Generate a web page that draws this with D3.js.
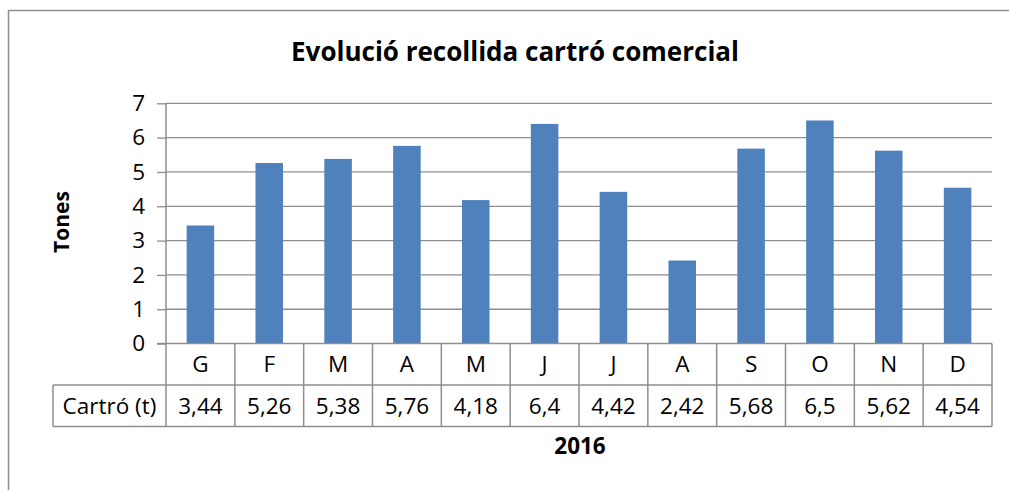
<!DOCTYPE html>
<html><head><meta charset="utf-8">
<script src="https://cdn.jsdelivr.net/npm/d3@7"></script>
<style>body{margin:0;background:#fff}svg{display:block}text{font-family:"Open Sans",sans-serif}</style>
</head><body>
<svg id="c" width="1009" height="490"></svg>
<script>
const title = "Evolució recollida cartró comercial";
const categories = ["G","F","M","A","M","J","J","A","S","O","N","D"];
const values = [3.44,5.26,5.38,5.76,4.18,6.4,4.42,2.42,5.68,6.5,5.62,4.54];
const valueLabels = ["3,44","5,26","5,38","5,76","4,18","6,4","4,42","2,42","5,68","6,5","5,62","4,54"];
const seriesName = "Cartró (t)";
const yTicks = [0,1,2,3,4,5,6,7];
const yTitle = "Tones";
const xTitle = "2016";

const svg = d3.select("#c");
const gray = "#8e8e8e";
const L = 166, R = 992, T = 103.3, B = 343.6;
const row1 = 385, row2 = 426.5, legL = 53;
const fs = 22.5;

// outer border
svg.append("rect").attr("x",8.5).attr("y",10.5).attr("width",1100).attr("height",600)
  .attr("fill","none").attr("stroke",gray).attr("stroke-width",1.5);

const x = d3.scaleBand().domain(d3.range(categories.length)).range([L,R]).paddingInner(0.6).paddingOuter(0.3);
const xCol = d3.scaleBand().domain(d3.range(categories.length)).range([L,R]);
const y = d3.scaleLinear().domain([0,7]).range([B,T]);

// gridlines
svg.append("g").selectAll("line").data(yTicks.filter(d=>d>0)).join("line")
  .attr("x1",L).attr("x2",R).attr("y1",d=>y(d)).attr("y2",d=>y(d))
  .attr("stroke",gray).attr("stroke-width",1.3);

// y axis
const yAxis = d3.axisLeft(y).tickValues(yTicks).tickSize(9).tickPadding(12).tickFormat(d3.format("d"));
const gy = svg.append("g").attr("transform",`translate(${L},0)`).call(yAxis);
gy.select(".domain").remove();
gy.selectAll(".tick line").attr("stroke",gray).attr("stroke-width",1.3);
gy.selectAll(".tick text").attr("font-size",fs).attr("fill","#000").attr("font-family","Open Sans");

// bars
svg.append("g").selectAll("rect").data(values).join("rect")
  .attr("x",(d,i)=>x(i)).attr("width",x.bandwidth())
  .attr("y",d=>y(d)).attr("height",d=>B-y(d)).attr("fill","#4f81bd");

// axis line vertical
svg.append("line").attr("x1",L).attr("x2",L).attr("y1",T).attr("y2",row2).attr("stroke",gray).attr("stroke-width",1.5);

// table
const tg = svg.append("g").attr("stroke",gray).attr("stroke-width",1.5);
tg.append("line").attr("x1",L-9).attr("x2",R).attr("y1",B).attr("y2",B);
tg.append("line").attr("x1",legL).attr("x2",R).attr("y1",row1).attr("y2",row1);
tg.append("line").attr("x1",legL).attr("x2",R).attr("y1",row2).attr("y2",row2);
tg.append("line").attr("x1",legL).attr("x2",legL).attr("y1",row1).attr("y2",row2);
tg.selectAll("line.col").data(d3.range(1,categories.length+1)).join("line").attr("class","col")
  .attr("x1",i=>xCol(i-1)+xCol.bandwidth()).attr("x2",i=>xCol(i-1)+xCol.bandwidth())
  .attr("y1",B).attr("y2",row2);

svg.append("g").selectAll("text").data(categories).join("text")
  .attr("x",(d,i)=>xCol(i)+xCol.bandwidth()/2).attr("y",(B+row1)/2).attr("dy","0.35em")
  .attr("text-anchor","middle").attr("font-size",fs).text(d=>d);
svg.append("g").selectAll("text").data(valueLabels).join("text")
  .attr("x",(d,i)=>xCol(i)+xCol.bandwidth()/2).attr("y",(row1+row2)/2).attr("dy","0.35em")
  .attr("text-anchor","middle").attr("font-size",fs).text(d=>d);
svg.append("text").attr("x",(legL+L)/2).attr("y",(row1+row2)/2).attr("dy","0.35em")
  .attr("text-anchor","middle").attr("font-size",fs).text(seriesName);

// titles
svg.append("text").attr("x",515).attr("y",52).attr("dy","0.35em").attr("text-anchor","middle")
  .attr("font-size",26).attr("font-weight","bold").text(title);
svg.append("text").attr("transform","translate(62,222) rotate(-90)").attr("dy","0.35em").attr("text-anchor","middle")
  .attr("font-size",21).attr("font-weight","bold").text(yTitle);
svg.append("text").attr("x",580).attr("y",446).attr("dy","0.35em").attr("text-anchor","middle")
  .attr("font-size",22.5).attr("font-weight","bold").text(xTitle);
</script>
</body></html>
